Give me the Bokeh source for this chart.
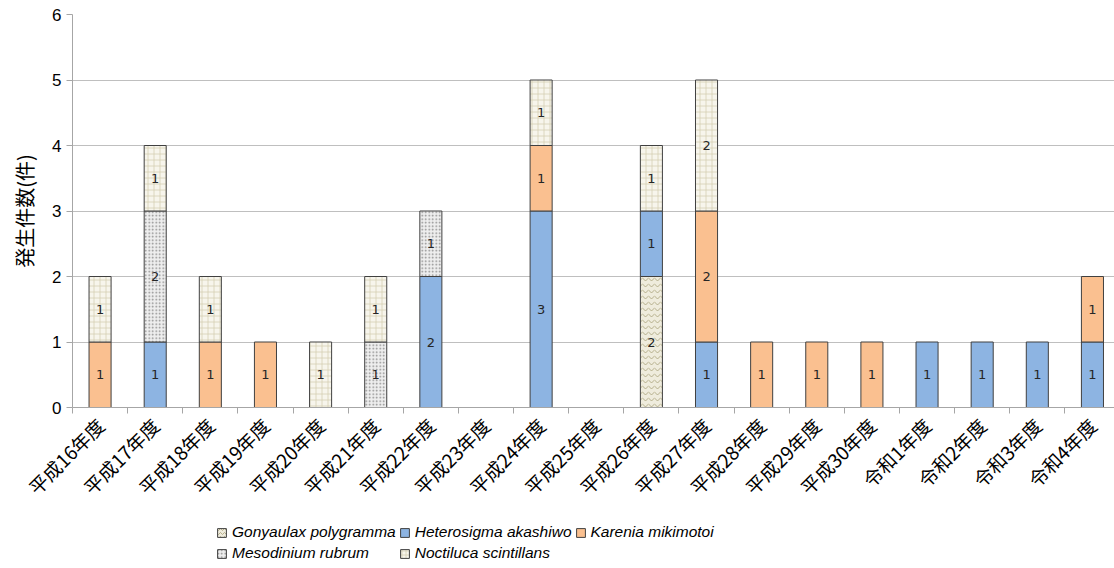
import math
from bokeh.plotting import figure
from bokeh.layouts import column
from bokeh.models import Range1d, FixedTicker, Legend, LegendItem, ColumnDataSource
from bokeh.core.properties import value
from bokeh.embed import file_html
from bokeh.resources import INLINE

categories = ["平成16年度", "平成17年度", "平成18年度", "平成19年度", "平成20年度",
              "平成21年度", "平成22年度", "平成23年度", "平成24年度", "平成25年度",
              "平成26年度", "平成27年度", "平成28年度", "平成29年度", "平成30年度",
              "令和1年度", "令和2年度", "令和3年度", "令和4年度"]
species = ["Gonyaulax polygramma", "Heterosigma akashiwo", "Karenia mikimotoi",
           "Mesodinium rubrum", "Noctiluca scintillans"]
gonyaulax   = [0, 0, 0, 0, 0, 0, 0, 0, 0, 0, 2, 0, 0, 0, 0, 0, 0, 0, 0]
heterosigma = [0, 1, 0, 0, 0, 0, 2, 0, 3, 0, 1, 1, 0, 0, 0, 1, 1, 1, 1]
karenia     = [1, 0, 1, 1, 0, 0, 0, 0, 1, 0, 0, 2, 1, 1, 1, 0, 0, 0, 1]
mesodinium  = [0, 2, 0, 0, 0, 1, 1, 0, 0, 0, 0, 0, 0, 0, 0, 0, 0, 0, 0]
noctiluca   = [1, 1, 1, 0, 1, 1, 0, 0, 1, 0, 1, 2, 0, 0, 0, 0, 0, 0, 0]
series = [gonyaulax, heterosigma, karenia, mesodinium, noctiluca]
y_ticks = [0, 1, 2, 3, 4, 5, 6]

fills = ["#EFECDD", "#8DB4E2", "#FAC090", "#EEEEEE", "#F7F5EC"]
hatches = ["horizontal_wave", " ", " ", "dot", "cross"]
hatch_colors = ["#A89F78", "#8DB4E2", "#FAC090", "#8A8A8A", "#D6CFB2"]
hatch_scales = [6, 12, 12, 3.5, 6]

n = len(categories)
xs = [i + 0.5 for i in range(n)]

p = figure(width=1114, height=512, output_backend="svg", toolbar_location=None,
           x_range=Range1d(0, 18.9), y_range=Range1d(0, 6),
           min_border_left=72, min_border_top=14, min_border_right=0, min_border_bottom=100)
p.outline_line_color = None
p.background_fill_color = "white"

# legend panel (separate figure below the chart)
lg = figure(width=1114, height=56, output_backend="svg", toolbar_location=None,
            x_range=Range1d(-50, -49), y_range=Range1d(0, 1),
            min_border=0, x_axis_type=None, y_axis_type=None)
lg.outline_line_color = None
lg.xgrid.grid_line_color = None
lg.ygrid.grid_line_color = None

bottom = [0] * n
items = []
for k, vals in enumerate(series):
    top = [b + v for b, v in zip(bottom, vals)]
    keep = [i for i in range(n) if vals[i] > 0]
    src = ColumnDataSource(dict(x=[xs[i] for i in keep],
                                bottom=[bottom[i] for i in keep],
                                top=[top[i] for i in keep],
                                mid=[bottom[i] + vals[i] / 2 for i in keep],
                                lab=[str(vals[i]) for i in keep]))
    style = dict(fill_color=fills[k], line_color="#404040", line_width=1,
                 hatch_pattern=hatches[k], hatch_color=hatch_colors[k],
                 hatch_weight=0.8)
    p.vbar(x="x", bottom="bottom", top="top", width=0.4, source=src,
           hatch_scale=hatch_scales[k], **style)
    p.text(x="x", y="mid", text="lab", source=src, text_align="center",
           text_baseline="middle", text_font_size="13px", text_color="#262626",
           text_font=value("DejaVu Sans"))
    r = lg.vbar(x="x", bottom="bottom", top="top", width=0.4, source=src,
                hatch_scale=min(hatch_scales[k], 4), **style)
    items.append(LegendItem(label=species[k], renderers=[r]))
    bottom = top

p.xaxis.ticker = FixedTicker(ticks=xs, minor_ticks=list(range(n + 1)))
p.xaxis.major_label_overrides = {x: c for x, c in zip(xs, categories)}
p.xaxis.major_label_orientation = math.pi / 4
p.xaxis.major_tick_line_color = None
p.xaxis.minor_tick_line_color = "#A6A6A6"
p.xaxis.minor_tick_out = 6
p.xaxis.minor_tick_in = 0
p.xaxis.axis_line_color = "#A6A6A6"
p.xaxis.major_label_text_font = "Noto Sans CJK JP"
p.xaxis.major_label_text_font_size = "19px"
p.xaxis.major_label_text_color = "black"
p.xaxis.major_label_standoff = 8

p.yaxis.ticker = FixedTicker(ticks=y_ticks)
p.yaxis.minor_tick_line_color = None
p.yaxis.major_tick_line_color = "#A6A6A6"
p.yaxis.major_tick_out = 6
p.yaxis.major_tick_in = 0
p.yaxis.axis_line_color = "#A6A6A6"
p.yaxis.major_label_text_font = "Liberation Sans"
p.yaxis.major_label_text_font_size = "17px"
p.yaxis.major_label_text_color = "black"
p.yaxis.axis_label = "発生件数(件)"
p.yaxis.axis_label_text_font = "Noto Sans CJK JP"
p.yaxis.axis_label_text_font_size = "20px"
p.yaxis.axis_label_text_font_style = "normal"
p.yaxis.axis_label_text_color = "black"
p.yaxis.axis_label_standoff = 10

p.xgrid.grid_line_color = None
p.ygrid.grid_line_color = "#BFBFBF"
p.ygrid.grid_line_width = 1

legend = Legend(items=items, orientation="horizontal", ncols=3,
                location=(144, 6), border_line_color=None,
                label_text_font="Liberation Sans", label_text_font_style="italic",
                label_text_font_size="15.5px", label_text_color="black",
                glyph_width=11, glyph_height=11,
                spacing=3, label_standoff=5, padding=2, margin=0,
                background_fill_alpha=0)
lg.add_layout(legend, "center")

layout = column(p, lg, spacing=0)
open("out.html", "w").write(file_html(layout, INLINE))
